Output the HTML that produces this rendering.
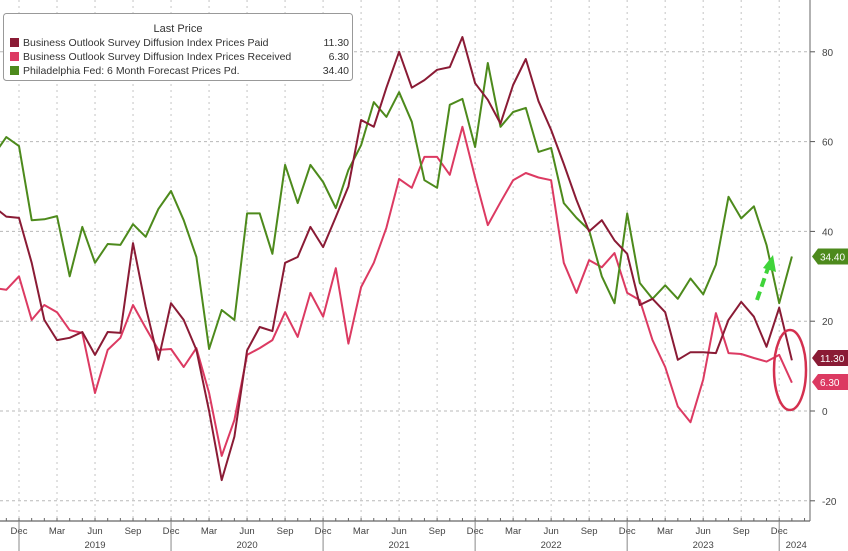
<!DOCTYPE html>
<html><head><meta charset="utf-8"><style>
html,body{margin:0;padding:0;background:#fff;}
svg{display:block;font-family:"Liberation Sans",sans-serif;}
</style></head><body>
<svg id="chart" width="848" height="551" viewBox="0 0 848 551">
<g id="grid"></g>
<g id="axes"></g>
<g id="series"></g>
<g id="annot"></g>
<g id="legend">
 <rect x="3.5" y="13.5" width="349" height="67" rx="3" fill="#fff" stroke="#999" stroke-width="1"/>
 <text x="178" y="32" font-size="11" fill="#333" text-anchor="middle">Last Price</text>
</g>
</svg>
<script>
const months = ["Oct18","Nov18","Dec18","Jan19","Feb19","Mar19","Apr19","May19","Jun19","Jul19","Aug19","Sep19","Oct19","Nov19","Dec19","Jan20","Feb20","Mar20","Apr20","May20","Jun20","Jul20","Aug20","Sep20","Oct20","Nov20","Dec20","Jan21","Feb21","Mar21","Apr21","May21","Jun21","Jul21","Aug21","Sep21","Oct21","Nov21","Dec21","Jan22","Feb22","Mar22","Apr22","May22","Jun22","Jul22","Aug22","Sep22","Oct22","Nov22","Dec22","Jan23","Feb23","Mar23","Apr23","May23","Jun23","Jul23","Aug23","Sep23","Oct23","Nov23","Dec23","Jan24"];
const pricesPaid = [45.5,43.3,43,33,20.3,15.8,16.3,17.6,12.5,17.6,17.4,37.4,23.2,11.4,24,20.3,13.6,0,-15.4,-5.7,13.5,18.7,17.8,33,34.3,41,36.5,43.2,50,64.8,63.3,72,80,72,73.7,76,76.6,83.3,73,69.3,64,72.6,78.4,69,62.6,55,47,40,42.5,38,35,23.6,25,22,11.4,13.1,13.1,12.9,20.3,24.3,21,14.3,23,11.3];
const pricesReceived = [27.4,27,30,20.3,23.6,22,18,17.4,4,13.6,16.3,23.6,18.5,13.6,13.8,9.8,14,4,-10,-2,12.5,14,15.8,22,16.5,26.3,21,31.8,15,27.6,33,40.8,51.7,49.7,56.6,56.6,52.6,63.3,52,41.4,46.5,51.4,53,52,51.4,33,26.3,33.6,32,35.2,26.3,24.7,15.8,9.8,1,-2.5,7,21.8,12.9,12.7,11.8,11,12.5,6.3];
const forecastPaid = [57,61,59,42.5,42.7,43.4,30,41,33,37.2,37,41.6,38.8,45,49,42.5,34.3,13.8,22.5,20.3,44,44,35,54.8,46.3,54.8,51,45.2,53.7,59.2,68.8,65.5,71,64.4,51.4,49.7,68.2,69.5,58.8,77.5,63.3,66.6,67.5,57.7,58.6,46.3,43,40.3,30,24,44,28.5,25,28,25,29.5,26,32.6,47.7,42.9,45.6,37,24,34.4];
const yTicks = [80,60,40,20,0,-20];
const monthLabels = ["Dec","Mar","Jun","Sep"];
const yearLabels = ["2019","2020","2021","2022","2023","2024"];
const lastValues = ["11.30","6.30","34.40"];
const seriesNames = ["Business Outlook Survey Diffusion Index Prices Paid","Business Outlook Survey Diffusion Index Prices Received","Philadelphia Fed: 6 Month Forecast Prices Pd."];
const colors = ["#8a1b35","#dc3a62","#4d8a1c"];

const NS="http://www.w3.org/2000/svg";
const X0=19, MW=12.67, Y0=411, YS=4.49, PR=810, AXY=521;
function x(i){return X0+(i-2)*MW;}
function y(v){return Y0-v*YS;}
function mk(tag,attrs,parent){const e=document.createElementNS(NS,tag);for(const k in attrs)e.setAttribute(k,attrs[k]);parent.appendChild(e);return e;}
const grid=document.getElementById('grid'),axes=document.getElementById('axes'),series=document.getElementById('series'),annot=document.getElementById('annot'),legend=document.getElementById('legend');

yTicks.forEach(v=>{
  const l=mk('line',{x1:0,x2:PR,y1:y(v),y2:y(v),stroke:'#b8b8b8','stroke-dasharray':'3,3','stroke-width':1},grid);
  
  
  const t=mk('line',{x1:PR,x2:PR+5,y1:y(v),y2:y(v),stroke:'#555','stroke-width':1},axes);
  
  
  const tx=mk('text',{x:PR+12,y:y(v)+4,'font-size':10,fill:'#444'},axes);
  tx.textContent=v;
  
  
});
const ax=mk('line',{x1:0,x2:PR,y1:AXY,y2:AXY,stroke:'#666','stroke-width':1.2},axes);


const ay=mk('line',{x1:PR,x2:PR,y1:0,y2:AXY,stroke:'#666','stroke-width':1},axes);


for(let m=-1;m<=62;m++){
  const xx=X0+m*MW; if(xx<0||xx>PR)continue;
  const tk=mk('line',{x1:xx,x2:xx,y1:AXY-3,y2:AXY,stroke:'#666','stroke-width':1},axes);
  
  
  if(m%3===0){
    const g=mk('line',{x1:xx,x2:xx,y1:0,y2:AXY,stroke:'#c4c4c4','stroke-dasharray':'2,4','stroke-width':1},grid);
    
    
    const lab=mk('text',{x:xx,y:AXY+13,'font-size':9.5,fill:'#444','text-anchor':'middle'},axes);
    lab.textContent=monthLabels[(m/3)%4];
    
    
    if(m%12===0){
      const yl=mk('line',{x1:xx,x2:xx,y1:AXY,y2:551,stroke:'#888','stroke-width':1},axes);
      
      
    }
  }
}
yearLabels.forEach((lab,i)=>{
  const xx = i<5 ? X0+(i*12+6)*MW : X0+60*MW+17;
  const t=mk('text',{x:xx,y:AXY+27,'font-size':9.5,fill:'#444','text-anchor':'middle'},axes);
  t.textContent=lab;
  
  
});

[pricesReceived,forecastPaid,pricesPaid].forEach((d,k)=>{
  const ci=[1,2,0][k];
  const p=mk('polyline',{points:d.map((v,i)=>x(i).toFixed(1)+','+y(v).toFixed(1)).join(' '),fill:'none',stroke:colors[ci],'stroke-width':2,'stroke-linejoin':'round'},series);
  
  
});

// last value tags
const lastIdx=months.length-1;
[[pricesPaid,0],[pricesReceived,1],[forecastPaid,2]].forEach(([d,k])=>{
  let ty=y(d[lastIdx]); if(k===0)ty=358; if(k===1)ty=382;
  const g=mk('path',{d:`M${PR+2},${ty} L${PR+8},${ty-8} L848,${ty-8} L848,${ty+8} L${PR+8},${ty+8} Z`,fill:colors[k]},annot);
  
  
  const t=mk('text',{x:PR+10,y:ty+4,'font-size':10,fill:'#fff'},annot);
  t.textContent=lastValues[k];
  
  
});
const el=mk('ellipse',{cx:790,cy:370,rx:16,ry:40,fill:'none',stroke:'#d4304f','stroke-width':2.5},annot);


const ar=mk('line',{x1:757,y1:300,x2:768,y2:268,stroke:'#3fd43a','stroke-width':4,'stroke-dasharray':'9,5'},annot);


const ah=mk('path',{d:'M763,268 L773,255 L776,272 Z',fill:'#3fd43a'},annot);



seriesNames.forEach((n,k)=>{
  const yy=46+k*14;
  const s=mk('rect',{x:10,y:yy-8,width:9,height:9,fill:colors[k]},legend);
  
  
  const t=mk('text',{x:23,y:yy,'font-size':10.5,fill:'#333'},legend);
  t.textContent=n;
  
  
  const v=mk('text',{x:349,y:yy,'font-size':10.5,fill:'#333','text-anchor':'end'},legend);
  v.textContent=lastValues[k];
  
  
});
</script>
</body></html>
